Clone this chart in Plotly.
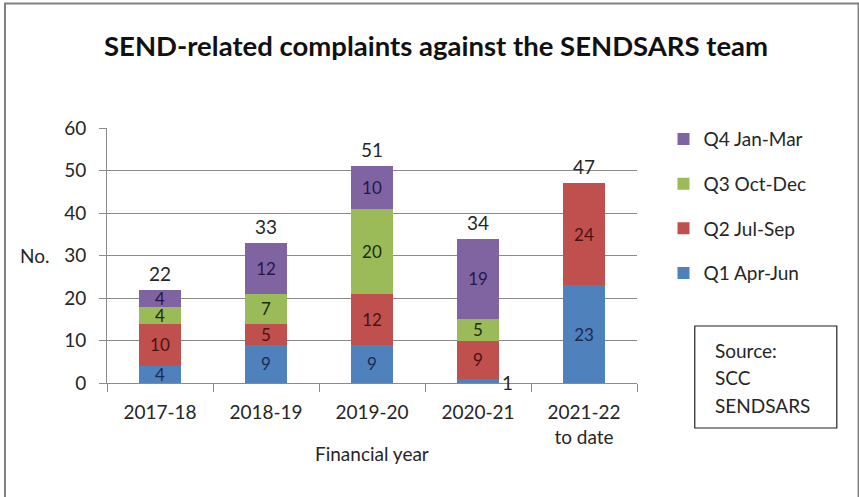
import plotly.graph_objects as go

years = ["2017-18", "2018-19", "2019-20", "2020-21", "2021-22<br>to date"]
q1 = [4, 9, 9, 1, 23]
q2 = [10, 5, 12, 9, 24]
q3 = [4, 7, 20, 5, None]
q4 = [4, 12, 10, 19, None]
totals = [22, 33, 51, 34, 47]

series = [
    ("Q1 Apr-Jun", q1, "#4F81BD", "#1F2A4F", 4),
    ("Q2 Jul-Sep", q2, "#C0504D", "#4A1212", 3),
    ("Q3 Oct-Dec", q3, "#9BBB59", "#1E2A0E", 2),
    ("Q4 Jan-Mar", q4, "#8064A2", "#24184A", 1),
]

FONT = "Lato, Carlito, Calibri, sans-serif"
TXT = "#262626"

fig = go.Figure()
for name, vals, color, tcolor, rank in series:
    texts = []
    for v in vals:
        if v is None or v < 3:
            texts.append("")
        else:
            texts.append(str(v))
    fig.add_trace(go.Bar(
        x=years, y=vals, name=name, legendgroup=name, legendrank=rank,
        marker=dict(color=color, line=dict(width=0)),
        text=texts, textposition="inside", insidetextanchor="middle", textangle=0,
        constraintext="none",
        textfont=dict(family=FONT, size=17, color=tcolor),
        width=0.4, cliponaxis=False,
    ))

annotations = []
for yr, t in zip(years, totals):
    annotations.append(dict(x=yr, y=t, text=str(t), showarrow=False, yanchor="bottom",
                            yshift=3, font=dict(family=FONT, size=19, color=TXT)))
# small value label outside the bar
for yr, v in zip(years, q1):
    if v < 3:
        annotations.append(dict(x=yr, y=v, text=str(v), showarrow=False, xanchor="center",
                                yanchor="middle", xshift=29, yshift=-4,
                                font=dict(family=FONT, size=19, color=TXT)))

annotations += [
    dict(xref="paper", yref="paper", x=-0.106, y=0.5, text="No.", showarrow=False,
         xanchor="right", yanchor="middle", font=dict(family=FONT, size=19, color=TXT)),
    dict(xref="paper", yref="paper", x=0.5, y=-0.275, text="Financial year", showarrow=False,
         xanchor="center", yanchor="middle", font=dict(family=FONT, size=19, color=TXT)),
    dict(xref="paper", yref="paper", x=0.62, y=1.325, text="<b>SEND-related complaints against the SENDSARS team</b>",
         showarrow=False, xanchor="center", yanchor="middle",
         font=dict(family=FONT, size=27.5, color="#111")),
]
for i, line in enumerate(["Source:", "SCC", "SENDSARS"]):
    annotations.append(dict(xref="paper", yref="paper", x=1.143, y=(383 - 350 - 27.5 * i) / 255,
                            text=line, showarrow=False, xanchor="left", yanchor="middle",
                            font=dict(family=FONT, size=19, color=TXT)))

shapes = [
    dict(type="rect", xref="paper", yref="paper", x0=-0.1925, x1=1.418, y0=-0.6, y1=1.488,
         line=dict(color="#808080", width=2), fillcolor="rgba(0,0,0,0)"),
    dict(type="rect", xref="paper", yref="paper", x0=1.109, x1=1.377, y0=(383 - 428) / 255,
         y1=(383 - 326) / 255, line=dict(color="#222", width=1.2), fillcolor="rgba(0,0,0,0)"),
]

fig.update_layout(
    barmode="stack",
    width=859, height=497,
    margin=dict(l=107, r=222, t=128, b=114, autoexpand=False),
    paper_bgcolor="white", plot_bgcolor="white",
    font=dict(family=FONT, size=19, color=TXT),
    showlegend=True,
    legend=dict(traceorder="grouped", x=1.05, y=1.031, xanchor="left", yanchor="top",
                font=dict(family=FONT, size=19, color=TXT), itemsizing="constant",
                tracegroupgap=17, itemwidth=30, bgcolor="rgba(0,0,0,0)"),
    annotations=annotations,
    shapes=shapes,
)
fig.update_yaxes(range=[0, 60], dtick=10, showgrid=True, gridcolor="#8a8a8a", gridwidth=1,
                 showline=True, linecolor="#8a8a8a", ticks="outside", ticklen=7,
                 tickcolor="#8a8a8a", zeroline=False, tickfont=dict(size=19), automargin=False,
                 ticklabelstandoff=9)
fig.update_xaxes(showline=True, linecolor="#8a8a8a", ticks="outside", ticklen=8,
                 tickcolor="#8a8a8a", tickson="boundaries", showgrid=False,
                 tickfont=dict(size=19), automargin=False, ticklabelstandoff=12)

fig.write_html("out.html", config={"displayModeBar": False},
               post_script="document.body.style.margin='0';")
